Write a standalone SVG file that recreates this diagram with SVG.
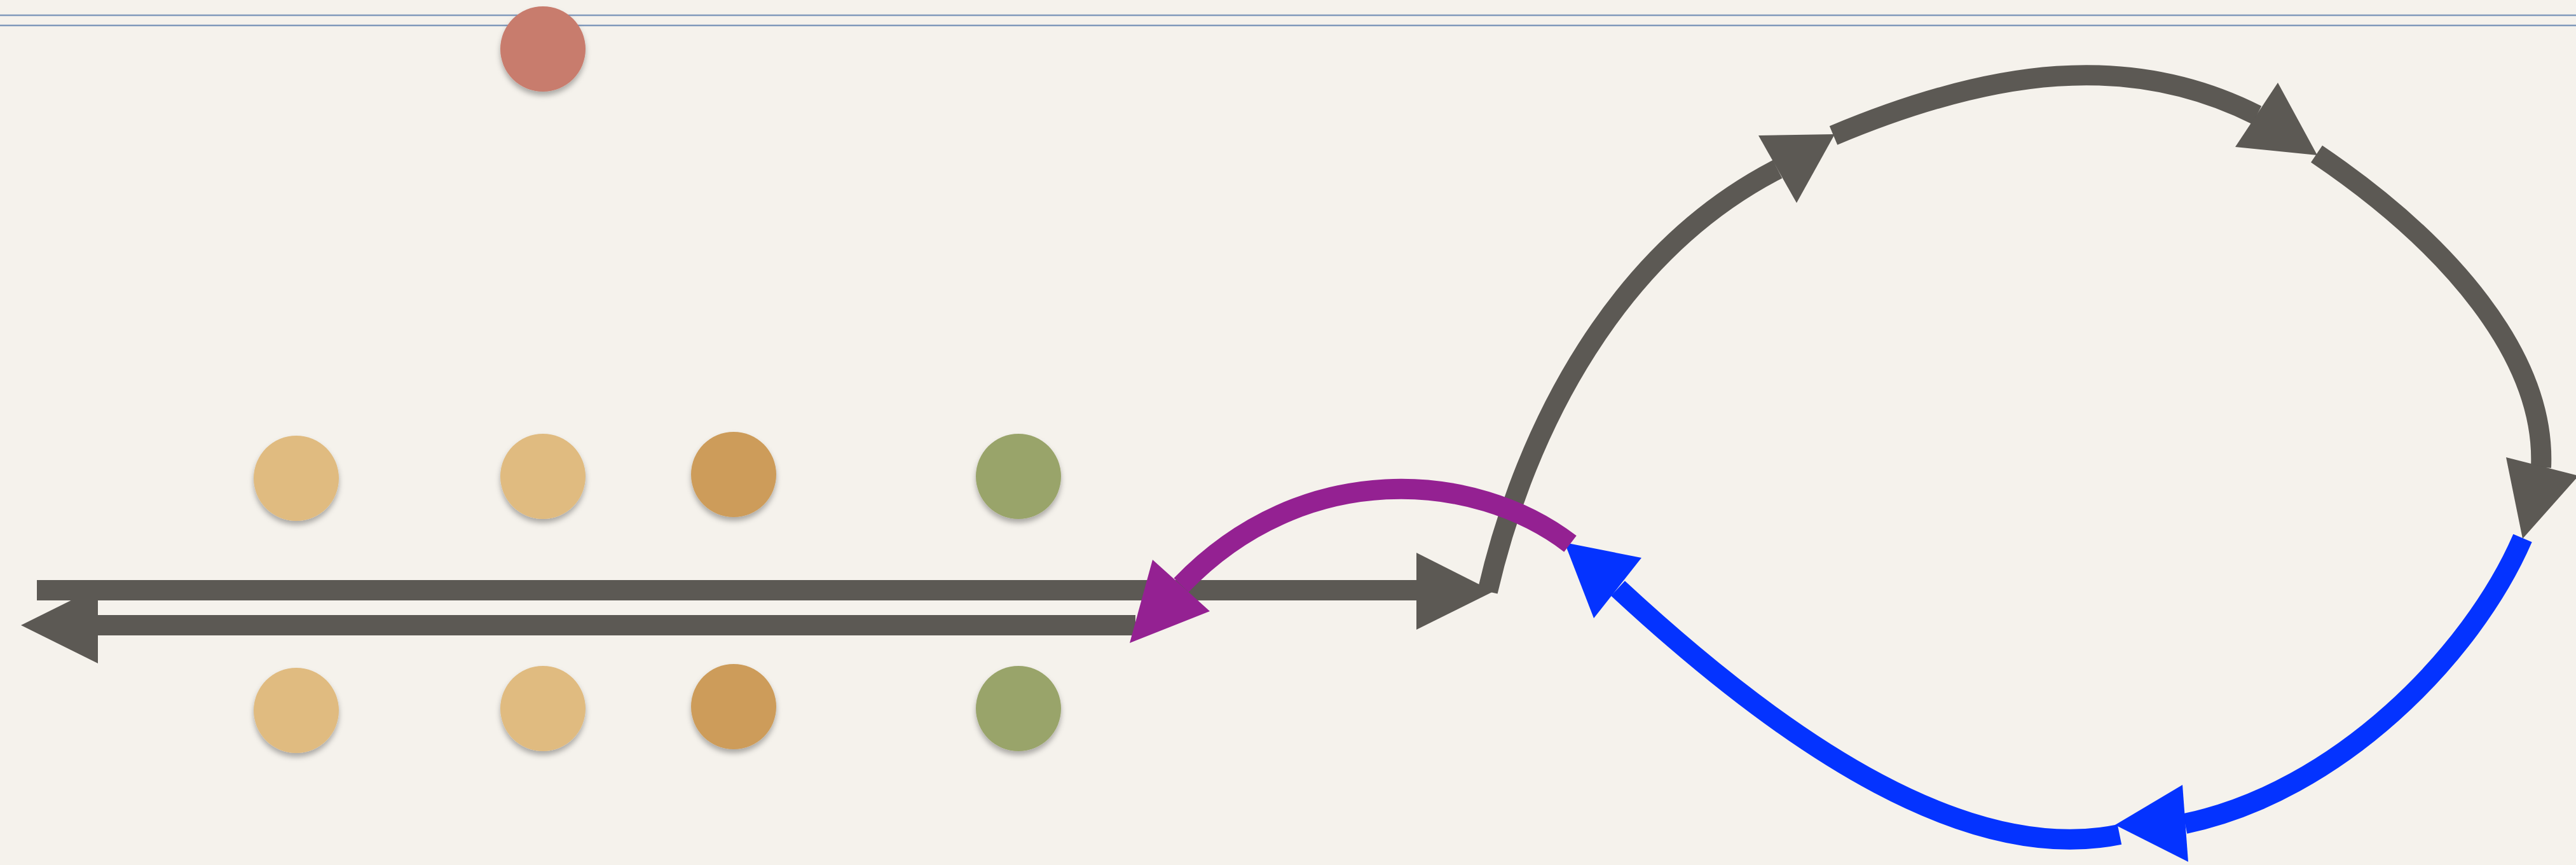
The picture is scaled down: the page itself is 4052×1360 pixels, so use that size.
<svg xmlns="http://www.w3.org/2000/svg" width="4052" height="1360" viewBox="0 0 4052 1360">
  <style>
    .grey { fill: #5c5954; }
    .greyline { fill: none; stroke: #5c5954; stroke-width: 32; }
    .blue { fill: #0433ff; }
    .blueline { fill: none; stroke: #0433ff; stroke-width: 32; }
    .purple { fill: #942192; }
    .purpleline { fill: none; stroke: #942192; stroke-width: 32; }
    .rule { stroke: #8099bb; stroke-width: 2.5; }
    .dot { filter: url(#shadow); }
    .tan { fill: #e0bb80; }
    .ochre { fill: #cd9c5a; }
    .olive { fill: #99a46a; }
    .red { fill: #c87b6d; }
  </style>
  <defs>
    <filter id="shadow" x="-30%" y="-30%" width="160%" height="170%">
      <feDropShadow dx="0" dy="6" stdDeviation="4" flood-color="#000" flood-opacity="0.3"/>
    </filter>
  </defs>

  <!-- paper -->
  <rect x="0" y="0" width="4052" height="1360" fill="#f5f2ec"/>

  <!-- double rule along the top -->
  <line class="rule" x1="0" y1="24" x2="4052" y2="24"/>
  <line class="rule" x1="0" y1="40" x2="4052" y2="40"/>

  <!-- dots -->
  <g id="dot-red"><circle class="dot red" cx="854" cy="77" r="67"/></g>
  <g id="dot-top-1"><circle class="dot tan" cx="466" cy="752" r="67"/></g>
  <g id="dot-top-2"><circle class="dot tan" cx="854" cy="749" r="67"/></g>
  <g id="dot-top-3"><circle class="dot ochre" cx="1154" cy="746" r="67"/></g>
  <g id="dot-top-4"><circle class="dot olive" cx="1602" cy="749" r="67"/></g>
  <g id="dot-bottom-1"><circle class="dot tan" cx="466" cy="1117" r="67"/></g>
  <g id="dot-bottom-2"><circle class="dot tan" cx="854" cy="1114" r="67"/></g>
  <g id="dot-bottom-3"><circle class="dot ochre" cx="1154" cy="1111" r="67"/></g>
  <g id="dot-bottom-4"><circle class="dot olive" cx="1602" cy="1114" r="67"/></g>

  <!-- connectors -->
  <g id="connectors">
    <!-- lower bar, pointing left -->
    <rect class="grey" x="150" y="967" width="1636" height="32"/>
    <polygon class="grey" points="33,983 154,923 154,1043"/>

    <!-- upper bar, pointing right -->
    <rect class="grey" x="58" y="912" width="2172" height="32"/>
    <polygon class="grey" points="2228,869 2228,990 2349,930"/>

    <!-- grey loop -->
    <path class="greyline" d="M2340,930 C2400,670 2545,395 2796,266"/>
    <polygon class="grey" points="2766,213 2826,319 2886,211"/>

    <path class="greyline" d="M2884,213 C3134,108 3350,80 3550,181"/>
    <polygon class="grey" points="3583,130 3516,231 3645,244"/>

    <path class="greyline" d="M3644,242 C3851,382 4005,560 3997,735"/>
    <polygon class="grey" points="3942,719 4056,748 3968,847"/>

    <!-- blue return -->
    <path class="blueline" d="M3968,846 C3888,1031 3677,1245 3437,1295"/>
    <polygon class="blue" points="3433,1234 3442,1355 3327,1297"/>

    <path class="blueline" d="M3334,1312 C3100,1360 2820,1180 2545,925"/>
    <polygon class="blue" points="2461,853 2582,877 2507,972"/>

    <!-- purple hook -->
    <path class="purpleline" d="M2470,855 C2320,740 2050,720 1858,920"/>
    <polygon class="purple" points="1777,1011 1813,880 1903,961"/>
  </g>
</svg>
